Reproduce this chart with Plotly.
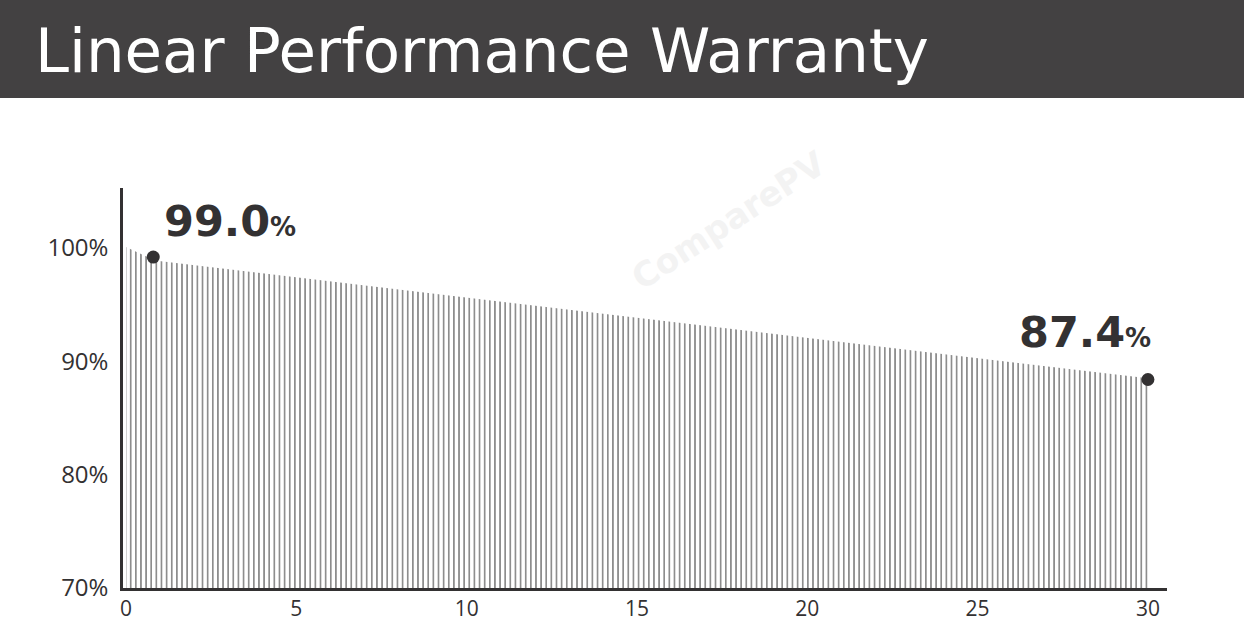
import plotly.graph_objects as go

# warranty curve (year, % of rated output)
years = [0, 0.85, 30]
output_pct = [100.1, 98.9, 88.5]

# highlighted points and their labels
dot_years = [0.8, 30]
dot_pct = [99.2, 88.4]
dot_labels = ["99.0", "87.4"]

y_ticks = [70, 80, 90, 100]
x_ticks = [0, 5, 10, 15, 20, 25, 30]

dark = "#333132"

fig = go.Figure()

fig.add_trace(
    go.Scatter(
        x=years,
        y=output_pct,
        mode="lines",
        line=dict(width=0, color=dark),
        fill="tozeroy",
        fillcolor="white",
        fillpattern=dict(shape="|", size=5.13, solidity=0.34,
                         fgcolor="#1c1c1c", bgcolor="white"),
        hoverinfo="skip",
        showlegend=False,
    )
)

fig.add_trace(
    go.Scatter(
        x=dot_years,
        y=dot_pct,
        mode="markers",
        marker=dict(size=13, color=dark),
        showlegend=False,
    )
)

# header bar
fig.add_shape(type="rect", xref="paper", yref="paper",
              x0=-0.2, x1=1.2, y0=1.225, y1=1.6,
              fillcolor="#434142", line_width=0, layer="below")

fig.add_annotation(
    text="Linear Performance Warranty",
    xref="paper", yref="paper", x=-0.086, y=1.345,
    xanchor="left", yanchor="middle", showarrow=False,
    font=dict(family="DejaVu Sans", size=61, color="white"),
)

# faint watermark
fig.add_annotation(
    text="<b>ComparePV</b>",
    x=17.7, y=102.5,
    showarrow=False, textangle=-33,
    font=dict(family="DejaVu Sans", size=34, color="#f3f3f3"),
)

for xv, yv, lab, anchor in [(1.06, 102.38, dot_labels[0], "left"),
                            (30.15, 92.59, dot_labels[1], "right")]:
    fig.add_annotation(
        text=f"<b>{lab}</b><span style='font-size:26px'><b>%</b></span>",
        x=xv, y=yv, xanchor=anchor, yanchor="middle", showarrow=False,
        font=dict(family="DejaVu Sans", size=43, color=dark),
    )

fig.update_xaxes(
    range=[-0.088, 30.56],
    tickvals=x_ticks,
    showline=True, linecolor=dark, linewidth=2.5,
    showgrid=False, zeroline=False, ticks="",
    ticklabelstandoff=0, automargin=False,
    tickfont=dict(family="Open Sans", size=21, color=dark),
)
fig.update_yaxes(
    range=[70, 105.3],
    tickvals=y_ticks,
    ticktext=[f"{v}%" for v in y_ticks],
    showline=True, linecolor=dark, linewidth=2.5,
    showgrid=False, zeroline=False, ticks="",
    ticklabelstandoff=7, automargin=False,
    tickfont=dict(family="Open Sans", size=24, color=dark),
)

fig.update_layout(
    width=1244, height=624,
    margin=dict(l=123, r=77, t=188, b=36),
    paper_bgcolor="white",
    plot_bgcolor="white",
)

fig.write_html("out.html", config={"displayModeBar": False},
               post_script="document.body.style.margin='0';")
